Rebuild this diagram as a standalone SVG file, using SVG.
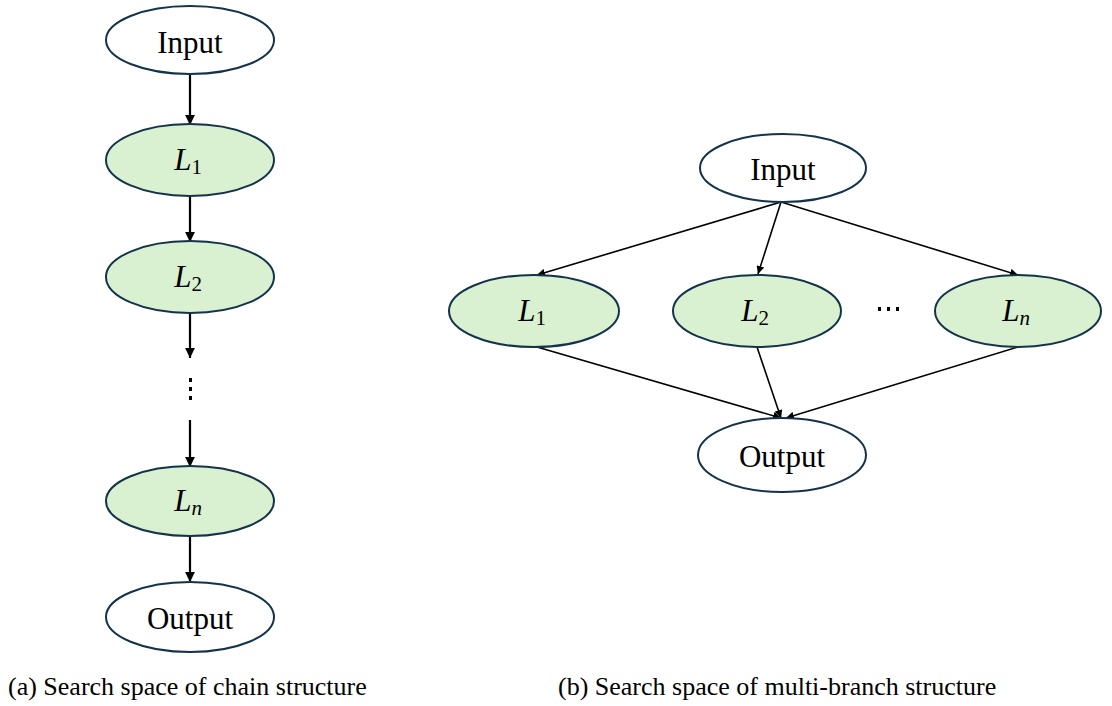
<svg xmlns="http://www.w3.org/2000/svg" width="1112" height="706" viewBox="0 0 1112 706">
<style>
.w{fill:#ffffff;stroke:#13334a;stroke-width:2}
.g{fill:#d9f1d1;stroke:#13334a;stroke-width:2}
.t{font-family:"Liberation Serif","Times New Roman",serif;font-size:31px;fill:#000;text-anchor:middle}
.cap{font-family:"Liberation Serif","Times New Roman",serif;font-size:26px;fill:#000}
.a1{stroke:#000;stroke-width:2.2;fill:none;marker-end:url(#ah1)}
.a2{stroke:#000;stroke-width:1.6;fill:none;marker-end:url(#ah2)}
.it{font-style:italic}
.sub{font-size:21px;font-style:normal}
.subi{font-size:21px;font-style:italic}
</style>
<defs>
<marker id="ah1" viewBox="0 0 10 10" refX="10" refY="5" markerWidth="4.5" markerHeight="4.5" markerUnits="strokeWidth" orient="auto"><path d="M0,0 L10,5 L0,10 z" fill="#000"/></marker>
<marker id="ah2" viewBox="0 0 10 10" refX="10" refY="5" markerWidth="5" markerHeight="5" markerUnits="strokeWidth" orient="auto"><path d="M0,0 L10,5 L0,10 z" fill="#000"/></marker>
</defs>
<g id="connectors">
<line class="a1" x1="190" y1="74" x2="190" y2="125"/>
<line class="a1" x1="190" y1="196" x2="190" y2="242"/>
<line class="a1" x1="190" y1="313" x2="190" y2="358"/>
<line class="a1" x1="190" y1="420" x2="190" y2="467"/>
<line class="a1" x1="190" y1="536" x2="190" y2="582"/>
<line class="a2" x1="781" y1="202" x2="537" y2="275"/>
<line class="a2" x1="781" y1="202" x2="758" y2="274"/>
<line class="a2" x1="781" y1="202" x2="1018" y2="275"/>
<line class="a2" x1="537" y1="347" x2="781" y2="418"/>
<line class="a2" x1="757" y1="347" x2="781" y2="418"/>
<line class="a2" x1="1018" y1="347" x2="786" y2="418"/>
</g>
<g id="a-input"><ellipse class="w" cx="190" cy="40" rx="84" ry="34"/><text class="t" x="190" y="53">Input</text></g>
<g id="a-l1"><ellipse class="g" cx="190" cy="160" rx="84" ry="36"/><text class="t" x="188" y="170"><tspan class="it">L</tspan><tspan class="sub" dy="4">1</tspan></text></g>
<g id="a-l2"><ellipse class="g" cx="190" cy="277" rx="84" ry="36"/><text class="t" x="188" y="287"><tspan class="it">L</tspan><tspan class="sub" dy="4">2</tspan></text></g>
<g id="a-dots"><rect x="189" y="378" width="3" height="4" fill="#000"/><rect x="189" y="387" width="3" height="4" fill="#000"/><rect x="189" y="396" width="3" height="4" fill="#000"/></g>
<g id="a-ln"><ellipse class="g" cx="190" cy="501" rx="84" ry="35"/><text class="t" x="188" y="511"><tspan class="it">L</tspan><tspan class="subi" dy="4">n</tspan></text></g>
<g id="a-output"><ellipse class="w" cx="190" cy="617" rx="84" ry="35"/><text class="t" x="190" y="629">Output</text></g>
<g id="b-input"><ellipse class="w" cx="783" cy="168" rx="83" ry="34"/><text class="t" x="783" y="180">Input</text></g>
<g id="b-l1"><ellipse class="g" cx="534" cy="311" rx="85" ry="36"/><text class="t" x="532" y="321"><tspan class="it">L</tspan><tspan class="sub" dy="4">1</tspan></text></g>
<g id="b-l2"><ellipse class="g" cx="757" cy="311" rx="84" ry="36"/><text class="t" x="755" y="321"><tspan class="it">L</tspan><tspan class="sub" dy="4">2</tspan></text></g>
<g id="b-dots"><rect x="878" y="307" width="3" height="4" fill="#000"/><rect x="887" y="307" width="3" height="4" fill="#000"/><rect x="896" y="307" width="3" height="4" fill="#000"/></g>
<g id="b-ln"><ellipse class="g" cx="1018" cy="311" rx="83" ry="36"/><text class="t" x="1016" y="321"><tspan class="it">L</tspan><tspan class="subi" dy="4">n</tspan></text></g>
<g id="b-output"><ellipse class="w" cx="782" cy="455" rx="84" ry="37"/><text class="t" x="782" y="467">Output</text></g>
<text class="cap" x="8" y="695">(a) Search space of chain structure</text>
<text class="cap" x="558" y="695">(b) Search space of multi-branch structure</text>
</svg>
